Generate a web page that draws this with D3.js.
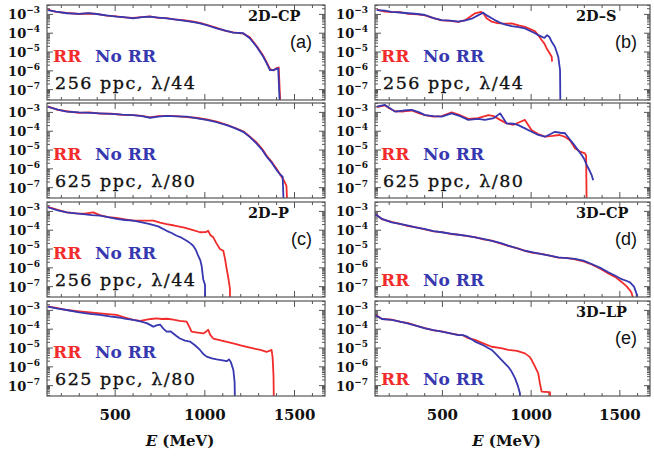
<!DOCTYPE html>
<html><head><meta charset="utf-8">
<script src="https://cdn.jsdelivr.net/npm/d3@7"></script>
<style>
html,body{margin:0;padding:0;background:#fff;}
svg{display:block;}
</style></head>
<body>
<svg id="c" width="654" height="457"></svg>
<script>
// ---------- data (E in MeV, spectra values) ----------
const xTickValues = [500, 1000, 1500];
const yTickExponents = [-3, -4, -5, -6, -7];
const legendLabels = ["RR", "No RR"];
const panelNames = ["2D\u2013CP", "2D\u2013S", "", "", "2D\u2013P", "3D\u2013CP", "", "3D\u2013LP"];
const panelTags = ["(a)", "(b)", "", "", "(c)", "(d)", "", "(e)"];
const panelRes = ["256 ppc, \u03bb/44", "256 ppc, \u03bb/44", "625 ppc, \u03bb/80", "625 ppc, \u03bb/80", "256 ppc, \u03bb/44", "", "625 ppc, \u03bb/80", ""];

// (a) 2D-CP 256 ppc
const cp256_noE = [124,170,230,300,350,397,450,508,550,600,650,694,740,787,830,880,930,973,1020,1066,1110,1158,1214,1251,1289,1326,1345,1363,1382,1400,1409,1419];
const cp256_noV = [1.7e-3,1.4e-3,1.15e-3,1.07e-3,1.17e-3,1.05e-3,8.9e-4,7.6e-4,7.1e-4,6.2e-4,7.1e-4,7.6e-4,6.8e-4,6.2e-4,5.4e-4,4.7e-4,4.0e-4,3.3e-4,2.5e-4,1.8e-4,1.4e-4,1.07e-4,1e-4,5.4e-5,1.9e-5,5.6e-6,2.5e-6,1.1e-6,1.1e-6,1.26e-6,1.35e-6,1e-8];
const cp256_rrE = [124,170,230,300,350,397,450,508,550,600,650,694,740,787,830,880,930,973,1020,1066,1110,1158,1214,1251,1289,1326,1345,1363,1382,1400,1412,1422];
const cp256_rrV = [1.78e-3,1.38e-3,1.2e-3,1.05e-3,1.12e-3,1.07e-3,8.7e-4,7.9e-4,6.9e-4,6.5e-4,7.2e-4,7.9e-4,6.5e-4,6.3e-4,5.5e-4,5e-4,4.2e-4,3.5e-4,2.6e-4,1.9e-4,1.38e-4,1.12e-4,9.5e-5,6e-5,2.1e-5,6.3e-6,2.8e-6,1.26e-6,1.05e-6,1.4e-6,1.5e-6,1e-8];

// (b) 2D-S 256 ppc
const s256_noE = [130,175,214,260,308,360,402,450,496,545,590,630,665,700,730,750,778,805,834,860,890,930,965,995,1022,1040,1059,1075,1090,1103,1116,1134,1153,1163,1165];
const s256_noV = [1.7e-3,1.6e-3,1.38e-3,1.26e-3,1.15e-3,1.05e-3,9.3e-4,6.3e-4,5e-4,4.7e-4,4.1e-4,4.8e-4,5.9e-4,8.9e-4,1.23e-3,8.9e-4,6.2e-4,4.5e-4,3.3e-4,2.8e-4,2.4e-4,2.1e-4,1.8e-4,1.32e-4,1e-4,7.9e-5,6.6e-5,5.6e-5,7.9e-5,6.3e-5,3.5e-5,1.9e-5,5.6e-6,1.1e-6,1e-8];
const s256_rrE = [130,175,214,260,308,360,402,450,496,545,590,630,660,684,700,718,735,749,778,805,834,860,890,930,965,995,1022,1040,1059,1075,1087,1100,1116,1118];
const s256_rrV = [1.78e-3,1.41e-3,1.32e-3,1.32e-3,1.07e-3,1e-3,8.9e-4,6.3e-4,4.8e-4,4.5e-4,4e-4,5e-4,7.9e-4,1.15e-3,1.26e-3,1.38e-3,1e-3,6.2e-4,4.1e-4,3.5e-4,3.3e-4,3.2e-4,3.3e-4,2.6e-4,2.2e-4,1.66e-4,1.26e-4,7.9e-5,4.4e-5,2.8e-5,1.6e-5,1e-5,5.6e-6,3.1e-6];

// 2D-CP 625 ppc
const cp625_noE = [124,180,230,300,360,415,480,540,600,650,694,740,787,840,899,950,1010,1066,1122,1170,1214,1250,1289,1320,1345,1375,1400,1420,1434,1440];
const cp625_noV = [2e-3,1.41e-3,1.1e-3,1e-3,9.5e-4,8.9e-4,8.3e-4,7.6e-4,7.2e-4,6.3e-4,5.2e-4,6e-4,6.5e-4,6.2e-4,5.9e-4,5e-4,4e-4,3e-4,2.1e-4,1.41e-4,9.3e-5,5e-5,2.2e-5,1e-5,4.4e-6,2e-6,8.7e-7,5e-7,3.8e-7,1e-8];
const cp625_rrE = [124,180,230,300,360,415,480,540,600,650,694,740,787,840,899,950,1010,1066,1122,1170,1214,1250,1289,1320,1345,1375,1400,1420,1440,1455,1460];
const cp625_rrV = [2.1e-3,1.35e-3,1.15e-3,9.5e-4,1e-3,8.7e-4,8.5e-4,7.4e-4,7.1e-4,6.6e-4,5.4e-4,6.3e-4,6.6e-4,6.3e-4,5.6e-4,5.2e-4,4.2e-4,3.2e-4,2.2e-4,1.48e-4,1e-4,5.2e-5,2.5e-5,1.12e-5,5e-6,2.2e-6,1e-6,5e-7,2.5e-7,1.26e-7,1e-8];

// 2D-S 625 ppc
const s625_noE = [130,176,200,233,280,327,370,402,450,496,552,600,646,700,740,790,825,862,900,928,965,1003,1040,1078,1110,1134,1165,1191,1215,1237,1260,1285,1300,1313,1330,1341,1350];
const s625_noV = [2e-3,2.5e-3,1.78e-3,1.1e-3,1.26e-3,1.35e-3,1e-3,7.2e-4,6.3e-4,5.9e-4,8.9e-4,6.3e-4,4e-4,4.5e-4,4e-4,5e-4,8.9e-4,2.6e-4,2.5e-4,2.1e-4,1.41e-4,9.3e-5,6.3e-5,5.1e-5,7.1e-5,9.3e-5,8.3e-5,7.8e-5,4e-5,2.2e-5,1.12e-5,5.4e-6,3.2e-6,1.6e-6,7.9e-7,4.7e-7,2.5e-7];
const s625_rrE = [130,176,200,233,280,327,370,402,450,496,552,600,646,700,759,790,825,862,900,940,965,1003,1040,1078,1120,1160,1191,1220,1247,1280,1303,1310,1313];
const s625_rrV = [1.9e-3,2.4e-3,1.66e-3,1.15e-3,1.12e-3,1.26e-3,8.9e-4,7.1e-4,6e-4,6.3e-4,1e-3,7.1e-4,4.5e-4,5e-4,7.2e-4,6.3e-4,4e-4,2.6e-4,2.2e-4,3.2e-4,4e-4,1.12e-4,7.1e-5,5.1e-5,5.6e-5,6.3e-5,5e-5,3.2e-5,1.23e-5,7.9e-6,6.6e-6,5e-6,1e-8];

// (c) 2D-P 256 ppc
const p256_noE = [124,180,230,280,322,370,415,460,508,555,601,650,694,740,787,815,843,870,899,920,935,950,963,975,982,991,1001,1002];
const p256_noV = [1.66e-3,1.12e-3,8.9e-4,7.9e-4,7.2e-4,6.3e-4,5.9e-4,5e-4,4e-4,3.5e-4,3.2e-4,2.6e-4,2.1e-4,1.6e-4,9.3e-5,7.1e-5,5.1e-5,4e-5,2.75e-5,2e-5,1.5e-5,8.9e-6,4.4e-6,2.5e-6,1.3e-6,2.5e-7,1.26e-7,1e-8];
const p256_rrE = [124,180,230,280,330,378,415,460,508,555,601,650,713,750,787,830,880,930,973,1005,1019,1030,1047,1065,1084,1103,1112,1122,1132,1140,1141];
const p256_rrV = [1.74e-3,1.2e-3,8.9e-4,7.9e-4,7.6e-4,8.9e-4,6.3e-4,5e-4,4.5e-4,3.8e-4,3.2e-4,3.2e-4,3.2e-4,2.5e-4,2.1e-4,1.78e-4,1.41e-4,1.05e-4,7.8e-5,7.9e-5,9.3e-5,5.6e-5,4.2e-5,2e-5,1e-5,8.1e-6,3.2e-6,8.7e-7,2.5e-7,7.9e-8,1e-8];

// (d) 3D-CP
const cp3d_noE = [120,160,214,260,308,355,402,450,496,545,590,640,684,730,778,825,871,920,965,1010,1059,1105,1153,1200,1247,1295,1341,1390,1435,1475,1510,1540,1557,1580,1595,1597];
const cp3d_noV = [7.2e-4,4e-4,2.6e-4,2.2e-4,1.74e-4,1.38e-4,1.15e-4,8.9e-5,7.8e-5,6.6e-5,5.75e-5,5e-5,4.2e-5,3.5e-5,2.75e-5,2.1e-5,1.5e-5,1.1e-5,8.1e-6,6.6e-6,5.4e-6,4.5e-6,3.6e-6,3.3e-6,3e-6,2.4e-6,1.6e-6,1e-6,5.8e-7,3.8e-7,2.5e-7,2e-7,1.7e-7,1e-7,4e-8,1e-8];
const cp3d_rrE = [120,160,214,260,308,355,402,450,496,545,590,640,684,730,778,825,871,920,965,1010,1059,1105,1153,1200,1247,1295,1341,1390,1435,1475,1510,1540,1565,1586];
const cp3d_rrV = [7.6e-4,3.8e-4,2.75e-4,2.2e-4,1.66e-4,1.41e-4,1.12e-4,8.7e-5,7.9e-5,6.3e-5,5.9e-5,4.8e-5,4.3e-5,3.3e-5,2.8e-5,2e-5,1.48e-5,1.12e-5,7.9e-6,6.3e-6,5.5e-6,4.4e-6,3.5e-6,3.4e-6,2.8e-6,2.2e-6,1.5e-6,8.9e-7,5e-7,3.2e-7,1.78e-7,1e-7,5e-8,1e-8];

// 2D-P 625 ppc
const p625_noE = [124,180,230,300,360,415,470,520,560,601,640,676,700,713,730,750,770,787,810,840,861,890,917,945,973,990,1010,1040,1066,1100,1122,1135,1145,1159,1166,1168];
const p625_noV = [1.6e-3,1.26e-3,1.05e-3,7.9e-4,6.6e-4,5.75e-4,4.8e-4,4.2e-4,3.5e-4,3.1e-4,2.6e-4,2.1e-4,1.6e-4,1.35e-4,1.6e-4,1.78e-4,1.05e-4,7.4e-5,7.6e-5,4.5e-5,3.2e-5,2.5e-5,2.2e-5,1.41e-5,7.9e-6,5e-6,3.5e-6,2.8e-6,2.5e-6,2.2e-6,2e-6,2.5e-6,1.78e-6,6.8e-7,1.6e-7,1e-8];
const p625_rrE = [124,180,230,300,360,415,460,508,555,601,640,676,700,731,760,790,824,860,899,915,926,960,992,1010,1019,1030,1047,1100,1158,1210,1270,1310,1344,1360,1372,1378,1383,1385];
const p625_rrV = [1.66e-3,1.32e-3,1.05e-3,8.9e-4,7.9e-4,6.9e-4,6.3e-4,5.75e-4,4.2e-4,3.1e-4,2.8e-4,3.2e-4,3.5e-4,3.8e-4,3.5e-4,3.6e-4,3.2e-4,2.8e-4,2.5e-4,1.26e-4,7.4e-5,6.6e-5,6e-5,7.9e-5,9.3e-5,5e-5,3.2e-5,2.4e-5,1.78e-5,1.32e-5,9.5e-6,7.9e-6,6.3e-6,7.1e-6,7.9e-6,3.2e-6,3.2e-7,1e-8];

// (e) 3D-LP
const lp3d_noE = [120,160,214,260,308,355,402,450,496,545,590,615,640,684,730,778,805,834,871,890,909,925,937,938];
const lp3d_noV = [5.75e-4,3.5e-4,3.1e-4,2.5e-4,2e-4,1.5e-4,1.12e-4,8.9e-5,7.4e-5,6e-5,4.9e-5,4.9e-5,4e-5,2.2e-5,1.41e-5,7.9e-6,4.5e-6,2.3e-6,1e-6,5.6e-7,2.5e-7,1e-7,4e-8,1e-8];
const lp3d_rrE = [120,160,214,260,308,355,402,450,496,545,590,615,640,684,730,778,830,871,920,965,990,1003,1020,1040,1050,1059,1080,1100,1106,1108];
const lp3d_rrV = [6e-4,3.5e-4,3.2e-4,2.5e-4,2.1e-4,1.5e-4,1.15e-4,8.7e-5,7.6e-5,6e-5,5e-5,4.8e-5,3.5e-5,2.7e-5,1.78e-5,1.17e-5,1e-5,7.9e-6,7.1e-6,5.2e-6,3.5e-6,2.3e-6,1.12e-6,4.5e-7,1.26e-7,4.8e-8,4.7e-8,4.5e-8,4.5e-8,1e-8];

// ---------- layout ----------
const RED = "#f22b2b", BLUE = "#3737b0";
const colX = [[47, 325], [375, 650]];
const rowTop = [5, 103, 202, 301];
const PH = 95;

const panelData = [
  [cp256_rrE, cp256_rrV, cp256_noE, cp256_noV],
  [s256_rrE, s256_rrV, s256_noE, s256_noV],
  [cp625_rrE, cp625_rrV, cp625_noE, cp625_noV],
  [s625_rrE, s625_rrV, s625_noE, s625_noV],
  [p256_rrE, p256_rrV, p256_noE, p256_noV],
  [cp3d_rrE, cp3d_rrV, cp3d_noE, cp3d_noV],
  [p625_rrE, p625_rrV, p625_noE, p625_noV],
  [lp3d_rrE, lp3d_rrV, lp3d_noE, lp3d_noV]
];

const svg = d3.select("#c");
const SERIF = "'DejaVu Serif', serif";

panelData.forEach((pd, i) => {
  const col = i % 2, row = Math.floor(i / 2);
  const [x0, x1] = colX[col];
  const t = rowTop[row], b = t + PH;
  const x = d3.scaleLinear().domain([120, 1670]).range([x0, x1]);
  const y = d3.scaleLog().domain([Math.pow(10, -7.55), Math.pow(10, -2.5)]).range([b, t]);
  const g = svg.append("g");

  const cid = "clip" + i;
  svg.append("clipPath").attr("id", cid).append("rect")
    .attr("x", x0).attr("y", t).attr("width", x1 - x0).attr("height", PH);

  // ticks
  const minorX = d3.range(200, 1700, 100).filter(v => !xTickValues.includes(v));
  const tickG = g.append("g").attr("stroke", "#555").attr("stroke-width", 1);
  xTickValues.forEach(v => {
    tickG.append("line").attr("x1", x(v)).attr("x2", x(v)).attr("y1", b).attr("y2", b - 6);
    tickG.append("line").attr("x1", x(v)).attr("x2", x(v)).attr("y1", t).attr("y2", t + 6);
  });
  minorX.forEach(v => {
    tickG.append("line").attr("x1", x(v)).attr("x2", x(v)).attr("y1", b).attr("y2", b - 3);
    tickG.append("line").attr("x1", x(v)).attr("x2", x(v)).attr("y1", t).attr("y2", t + 3);
  });
  const [ylo, yhi] = y.domain();
  for (let e = -8; e <= -3; e++) {
    for (let m = 1; m <= 9; m++) {
      const v = m * Math.pow(10, e);
      if (v < ylo || v > yhi) continue;
      const L = m === 1 ? 6 : 3;
      tickG.append("line").attr("x1", x0).attr("x2", x0 + L).attr("y1", y(v)).attr("y2", y(v));
      tickG.append("line").attr("x1", x1).attr("x2", x1 - L).attr("y1", y(v)).attr("y2", y(v));
    }
  }

  // y labels
  yTickExponents.forEach(e => {
    const tx = g.append("text").attr("x", x0 - 7).attr("y", y(Math.pow(10, e)) + 5)
      .attr("text-anchor", "end").attr("font-family", SERIF).attr("font-weight", "bold")
      .attr("font-size", 13).attr("fill", "#111");
    tx.append("tspan").text("10");
    tx.append("tspan").attr("dy", -6).attr("font-size", 9).text("\u2212" + Math.abs(e));
  });

  // lines
  const line = d3.line().x(d => x(d[0])).y(d => y(d[1]));
  const lg = g.append("g").attr("clip-path", "url(#" + cid + ")").attr("fill", "none")
    .attr("stroke-width", 1.8).attr("stroke-linejoin", "round");
  lg.append("path").attr("d", line(pd[0].map((e, k) => [e, pd[1][k]]))).attr("stroke", RED);
  lg.append("path").attr("d", line(pd[2].map((e, k) => [e, pd[3][k]]))).attr("stroke", BLUE);

  // frame
  g.append("rect").attr("x", x0).attr("y", t).attr("width", x1 - x0).attr("height", PH)
    .attr("fill", "none").attr("stroke", "#555").attr("stroke-width", 1.2);

  // texts
  if (panelNames[i]) {
    g.append("text").attr("x", x0 + 201).attr("y", t + 16).attr("font-family", SERIF)
      .attr("font-weight", "bold").attr("font-size", 14.5).attr("fill", "#111").text(panelNames[i]);
  }
  if (panelTags[i]) {
    g.append("text").attr("x", x1 - 13).attr("y", t + 43).attr("text-anchor", "end")
      .attr("font-family", "'Liberation Sans', Arial, sans-serif").attr("font-size", 18)
      .attr("fill", "#111").text(panelTags[i]);
  }
  const legY = panelRes[i] ? t + 56.5 : t + 84;
  g.append("text").attr("x", x0 + 6).attr("y", legY).attr("font-family", SERIF)
    .attr("font-weight", "bold").attr("font-size", 17).attr("fill", RED).text(legendLabels[0]);
  g.append("text").attr("x", x0 + 48).attr("y", legY).attr("font-family", SERIF)
    .attr("font-weight", "bold").attr("font-size", 17).attr("fill", BLUE).text(legendLabels[1]);
  if (panelRes[i]) {
    g.append("text").attr("x", x0 + 8).attr("y", t + 84).attr("font-family", SERIF)
      .attr("font-size", 17.5).attr("fill", "#111").attr("stroke", "#111").attr("stroke-width", 0.35)
      .attr("textLength", 140).attr("lengthAdjust", "spacing").text(panelRes[i]);
  }

  // bottom x axis labels
  if (row === 3) {
    xTickValues.forEach(v => {
      g.append("text").attr("x", x(v)).attr("y", 420).attr("text-anchor", "middle")
        .attr("font-family", SERIF).attr("font-weight", "bold").attr("font-size", 15)
        .attr("fill", "#111").text(v);
    });
    const xl = g.append("text").attr("x", (x0 + x1) / 2 - 6).attr("y", 446).attr("text-anchor", "middle")
      .attr("font-family", SERIF).attr("font-weight", "bold").attr("font-size", 15).attr("fill", "#111");
    xl.append("tspan").attr("font-style", "italic").text("E");
    xl.append("tspan").text(" (MeV)");
  }
});
</script>
</body></html>
